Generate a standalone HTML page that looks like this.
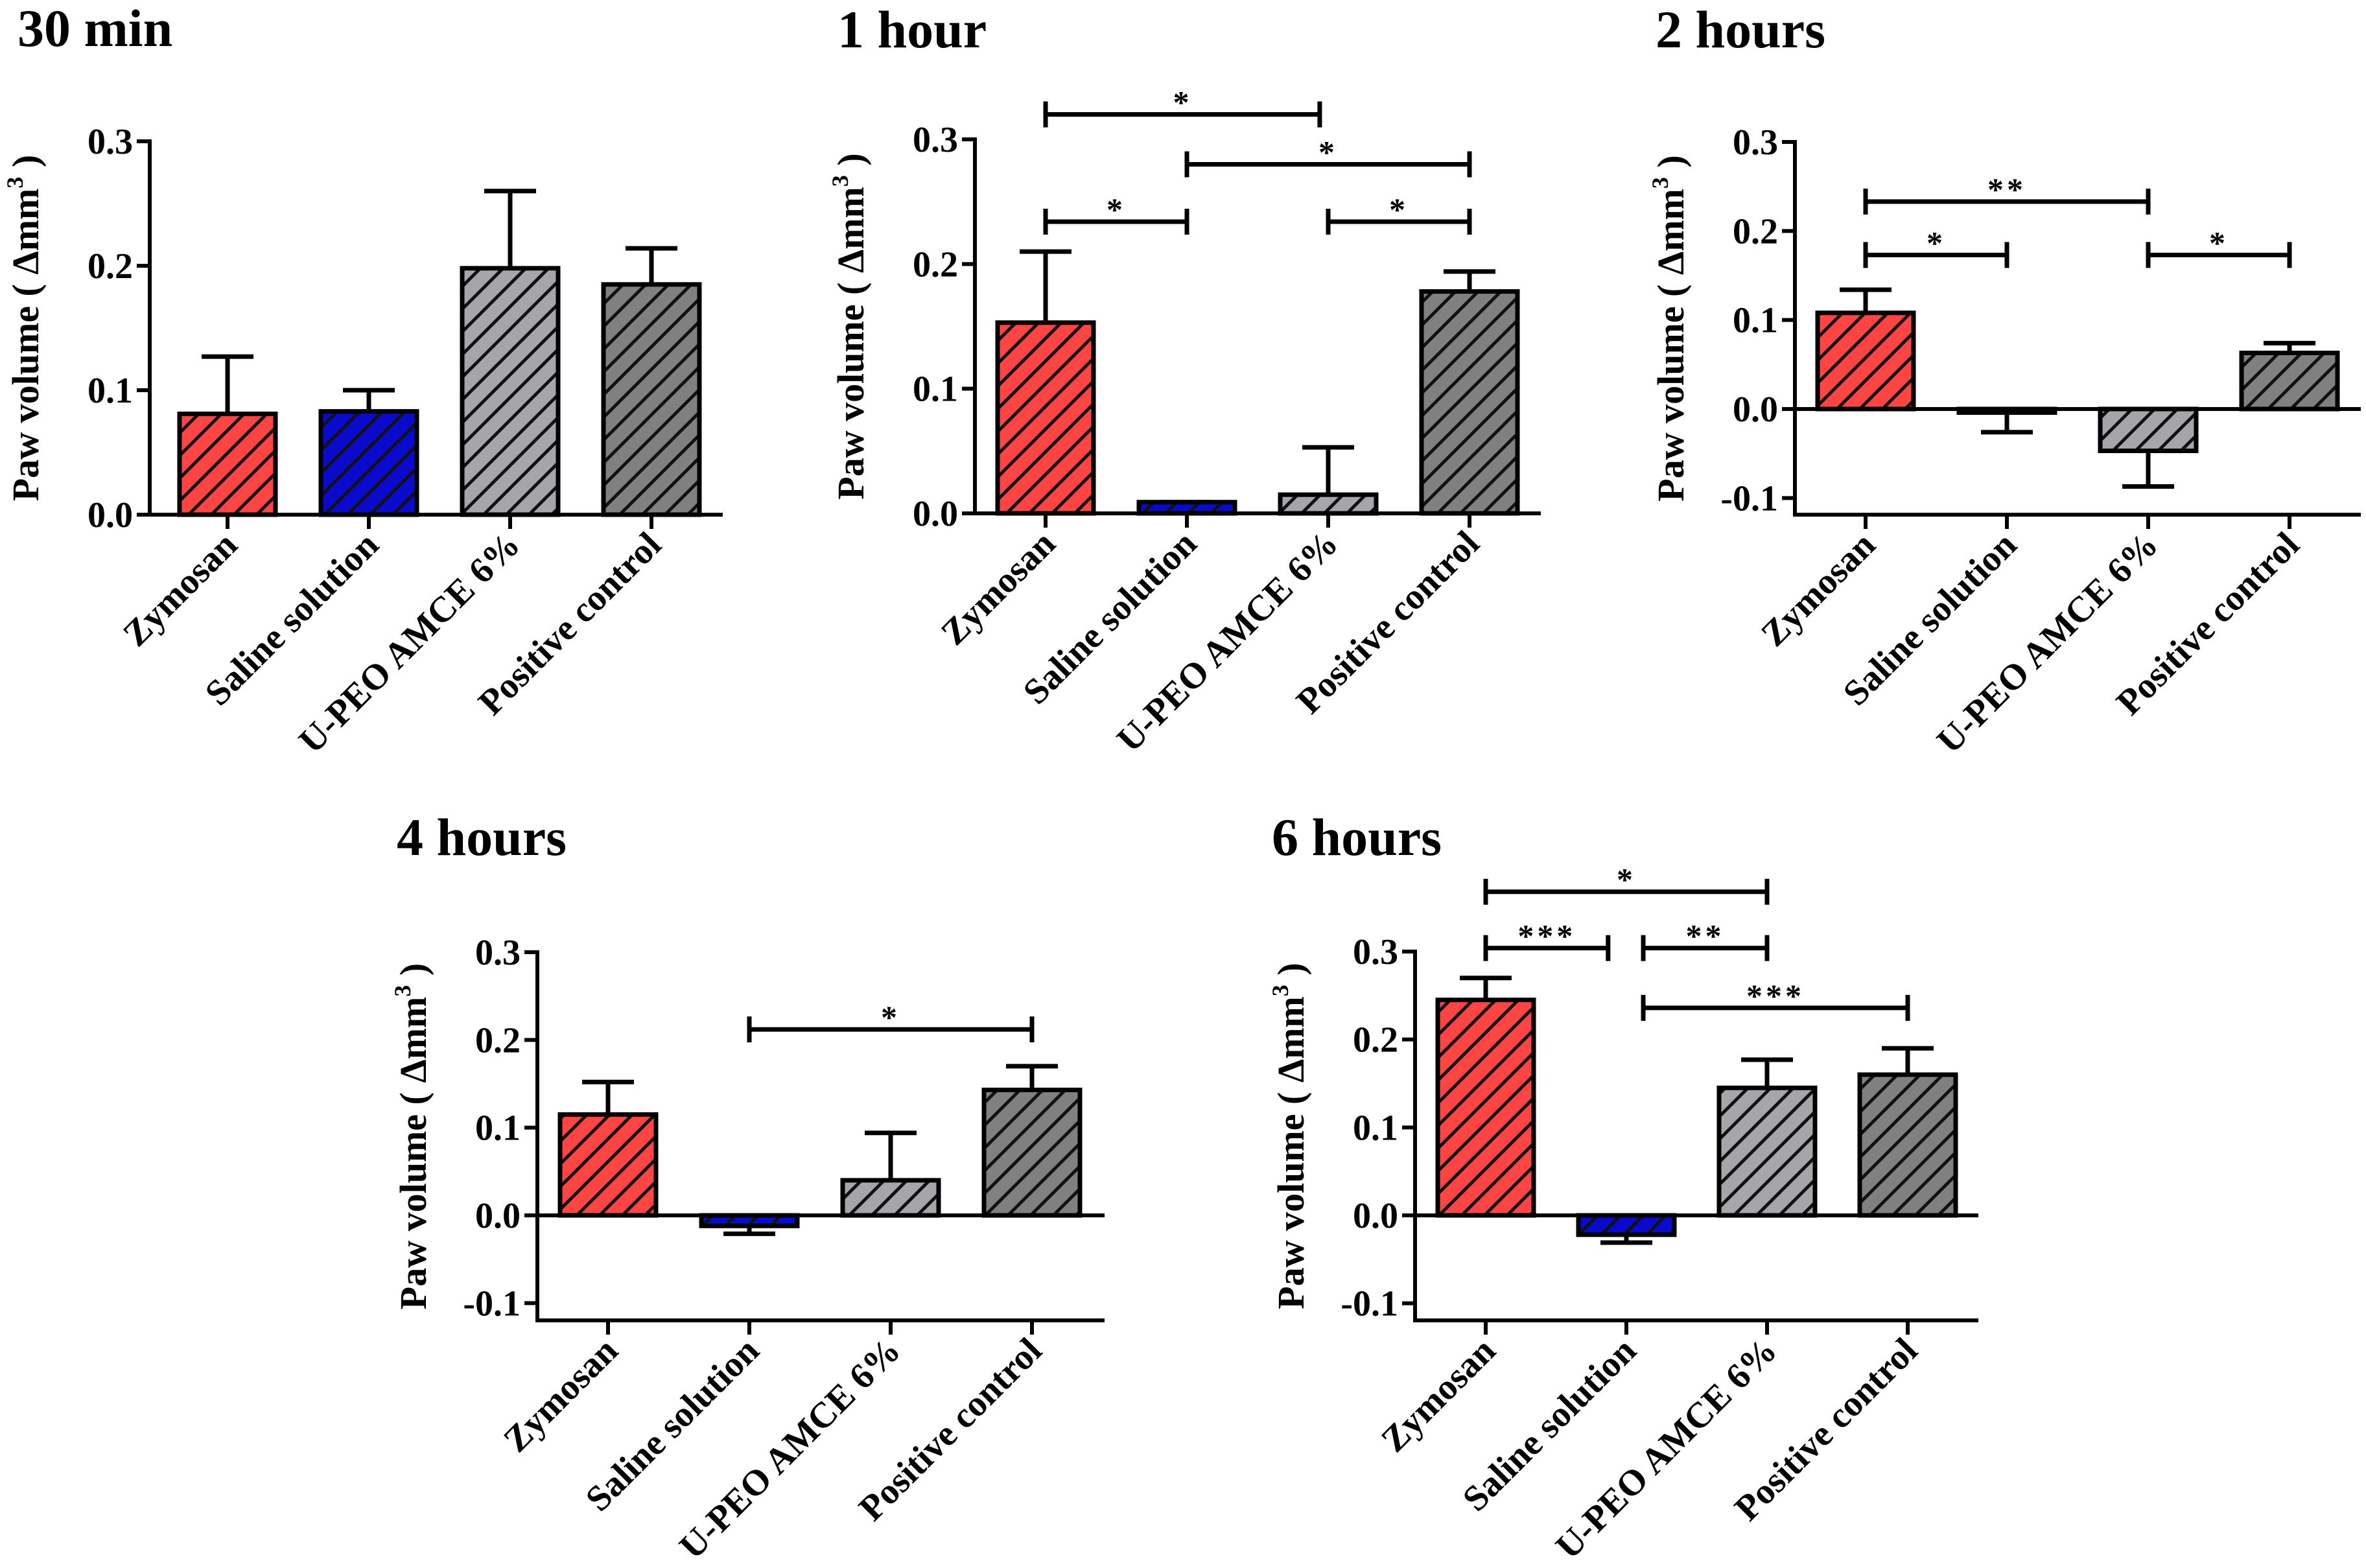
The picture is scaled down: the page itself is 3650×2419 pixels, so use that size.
<!DOCTYPE html>
<html><head><meta charset="utf-8">
<style>
html,body{margin:0;padding:0;background:#fff;}
svg{display:block;}
text{font-family:"Liberation Serif",serif;font-weight:bold;fill:#000;}
</style></head>
<body>
<svg id="fig" width="3650" height="2419" viewBox="0 0 3650 2419" xmlns="http://www.w3.org/2000/svg">
<defs>
<pattern id="h-red" patternUnits="userSpaceOnUse" width="35" height="35"><rect width="35" height="35" fill="#ff4444"/><path d="M-5,40 L40,-5 M-40,40 L5,-5 M30,40 L75,-5" stroke="#111" stroke-width="5"/></pattern>
<pattern id="h-blue" patternUnits="userSpaceOnUse" width="35" height="35"><rect width="35" height="35" fill="#0a0acc"/><path d="M-5,40 L40,-5 M-40,40 L5,-5 M30,40 L75,-5" stroke="#111" stroke-width="5"/></pattern>
<pattern id="h-lgray" patternUnits="userSpaceOnUse" width="35" height="35"><rect width="35" height="35" fill="#a6a6aa"/><path d="M-5,40 L40,-5 M-40,40 L5,-5 M30,40 L75,-5" stroke="#111" stroke-width="5"/></pattern>
<pattern id="h-dgray" patternUnits="userSpaceOnUse" width="35" height="35"><rect width="35" height="35" fill="#808080"/><path d="M-5,40 L40,-5 M-40,40 L5,-5 M30,40 L75,-5" stroke="#111" stroke-width="5"/></pattern>
</defs>
</svg>
<script>
const categories = ["Zymosan", "Saline solution", "U-PEO AMCE 6%", "Positive control"];
const fills = ["url(#h-red)", "url(#h-blue)", "url(#h-lgray)", "url(#h-dgray)"];
const panelTitles = ["30 min", "1 hour", "2 hours", "4 hours", "6 hours"];
const means30 = [0.081, 0.083, 0.198, 0.185];
const errTop30 = [0.127, 0.100, 0.260, 0.214];
const means1h = [0.153, 0.009, 0.015, 0.178];
const errTop1h = [0.210, 0.009, 0.053, 0.194];
const means2h = [0.108, -0.004, -0.047, 0.063];
const errTop2h = [0.134, -0.026, -0.087, 0.074];
const means4h = [0.115, -0.012, 0.040, 0.143];
const errTop4h = [0.152, -0.021, 0.094, 0.170];
const means6h = [0.245, -0.022, 0.145, 0.160];
const errTop6h = [0.270, -0.031, 0.177, 0.190];
const ticks30 = [0.0, 0.1, 0.2, 0.3];
const ticksNeg = [-0.1, 0.0, 0.1, 0.2, 0.3];
const sig1hFrom = [0, 1, 0, 2];
const sig1hTo = [1.94, 3, 1, 3];
const sig1hY = [0.320, 0.280, 0.234, 0.234];
const sig1hLabel = ["*", "*", "*", "*"];
const sig2hFrom = [0, 0, 2];
const sig2hTo = [2, 1, 3];
const sig2hY = [0.233, 0.173, 0.173];
const sig2hLabel = ["**", "*", "*"];
const sig4hFrom = [1];
const sig4hTo = [3];
const sig4hY = [0.212];
const sig4hLabel = ["*"];
const sig6hFrom = [0, 0, 1.12, 1.12];
const sig6hTo = [2, 0.87, 2, 3];
const sig6hY = [0.368, 0.304, 0.304, 0.236];
const sig6hLabel = ["*", "***", "**", "***"];

const NS = "http://www.w3.org/2000/svg";
const svg = document.getElementById("fig");
function mk(tag, attrs, parent) {
  const e = document.createElementNS(NS, tag);
  for (const k in attrs) e.setAttribute(k, attrs[k]);
  (parent || svg).appendChild(e);
  return e;
}

const panels = [
  {title: panelTitles[0], tx: 27, ty: 71, axisX: 231, xEnd: 1115, firstTick: 351, step: 218, yMaxPx: 218, zeroPx: 794, yMin: 0, bottomPx: 794, means: means30, errs: errTop30, ticks: ticks30, sf: [], st: [], sy: [], sl: []},
  {title: panelTitles[1], tx: 1292, ty: 73, axisX: 1504, xEnd: 2377, firstTick: 1613, step: 218, yMaxPx: 215, zeroPx: 792, yMin: 0, bottomPx: 792, means: means1h, errs: errTop1h, ticks: ticks30, sf: sig1hFrom, st: sig1hTo, sy: sig1hY, sl: sig1hLabel},
  {title: panelTitles[2], tx: 2554, ty: 73, axisX: 2769, xEnd: 3642, firstTick: 2878, step: 218, yMaxPx: 219, zeroPx: 631, yMin: -0.119, bottomPx: 794, means: means2h, errs: errTop2h, ticks: ticksNeg, sf: sig2hFrom, st: sig2hTo, sy: sig2hY, sl: sig2hLabel},
  {title: panelTitles[3], tx: 612, ty: 1319, axisX: 829, xEnd: 1704, firstTick: 938, step: 218, yMaxPx: 1469, zeroPx: 1875, yMin: -0.12, bottomPx: 2037, means: means4h, errs: errTop4h, ticks: ticksNeg, sf: sig4hFrom, st: sig4hTo, sy: sig4hY, sl: sig4hLabel},
  {title: panelTitles[4], tx: 1962, ty: 1319, axisX: 2183, xEnd: 3052, firstTick: 2292, step: 217, yMaxPx: 1468, zeroPx: 1875, yMin: -0.12, bottomPx: 2037, means: means6h, errs: errTop6h, ticks: ticksNeg, sf: sig6hFrom, st: sig6hTo, sy: sig6hY, sl: sig6hLabel}
];

panels.forEach((p, pi) => {
  const g = mk("g", {});
  
  
  const y = v => p.zeroPx - v * (p.zeroPx - p.yMaxPx) / 0.3;
  const x = i => p.firstTick + i * p.step;

  const t = mk("text", {x: p.tx, y: p.ty, "font-size": 82}, g);
  t.textContent = p.title;
  
  

  p.means.forEach((m, i) => {
    const cx = x(i), hw = 74;
    const top = Math.min(y(m), y(0)), h = Math.max(Math.abs(y(m) - y(0)), 2);
    const e = p.errs[i];
    const ew = mk("line", {x1: cx, x2: cx, y1: y(m), y2: y(e), stroke: "#000", "stroke-width": 7}, g);
    
    
    const ec = mk("line", {x1: cx - 40, x2: cx + 40, y1: y(e), y2: y(e), stroke: "#000", "stroke-width": 7}, g);
    
    
    const r = mk("rect", {x: cx - hw, y: top, width: hw * 2, height: h, fill: fills[i], stroke: "#000", "stroke-width": 7}, g);
    
    
  });

  const ya = mk("line", {x1: p.axisX, x2: p.axisX, y1: p.yMaxPx - 3, y2: p.bottomPx + 3, stroke: "#000", "stroke-width": 6}, g);
  
  
  const xa = mk("line", {x1: p.axisX, x2: p.xEnd, y1: p.bottomPx, y2: p.bottomPx, stroke: "#000", "stroke-width": 6}, g);
  
  
  if (p.yMin < 0) {
    const zl = mk("line", {x1: p.axisX, x2: p.xEnd, y1: y(0), y2: y(0), stroke: "#000", "stroke-width": 6}, g);
    
    
  }
  p.ticks.forEach(v => {
    mk("line", {x1: p.axisX - 20, x2: p.axisX, y1: y(v), y2: y(v), stroke: "#000", "stroke-width": 6}, g);
    const tl = mk("text", {x: p.axisX - 26, y: y(v) + 19, "font-size": 56, "text-anchor": "end"}, g);
    tl.textContent = v.toFixed(1);
    
    
  });
  categories.forEach((c, i) => {
    mk("line", {x1: x(i), x2: x(i), y1: p.bottomPx, y2: p.bottomPx + 22, stroke: "#000", "stroke-width": 6}, g);
    const lx = x(i) + 18, ly = p.bottomPx + 50;
    const cl = mk("text", {x: lx, y: ly, "font-size": 56, "text-anchor": "end", transform: "rotate(-45 " + lx + " " + ly + ")"}, g);
    cl.textContent = c;
    
    
  });

  const cy = (p.yMaxPx + p.bottomPx) / 2, tx = p.axisX - 172;
  const yt = mk("text", {x: tx, y: cy, "font-size": 58, "text-anchor": "middle", transform: "rotate(-90 " + tx + " " + cy + ")"}, g);
  yt.innerHTML = 'Paw volume ( \u0394mm<tspan dy="-24" font-size="36">3</tspan><tspan dy="24"> )</tspan>';
  
  

  p.sf.forEach((f, k) => {
    const x1 = x(f), x2 = x(p.st[k]), by = y(p.sy[k]);
    const bg = mk("g", {stroke: "#000", "stroke-width": 7}, g);
    
    
    mk("line", {x1: x1, x2: x2, y1: by, y2: by}, bg);
    mk("line", {x1: x1, x2: x1, y1: by - 20, y2: by + 20}, bg);
    mk("line", {x1: x2, x2: x2, y1: by - 20, y2: by + 20}, bg);
    const st = mk("text", {x: (x1 + x2) / 2, y: by - 2, "font-size": 50, "text-anchor": "middle", "letter-spacing": 5}, g);
    st.textContent = p.sl[k];
    
    
  });
});
</script>
</body></html>
